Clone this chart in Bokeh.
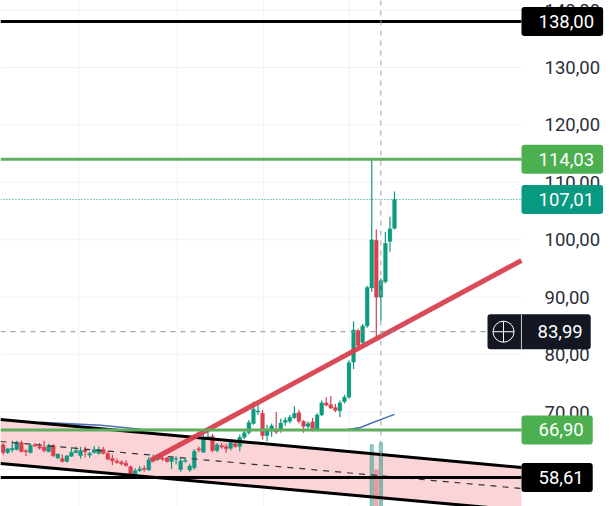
from bokeh.embed import file_html
from bokeh.models import ColumnDataSource, FixedTicker, Label, Range1d, Span
from bokeh.plotting import figure
from bokeh.resources import INLINE

opens = [64.3, 62.95, 63.4, 63.5, 64.7, 63.3, 62.95, 64.3, 64.0, 63.9, 63.1, 64.2, 62.0, 61.9, 61.4,
         62.3, 62.95, 62.4, 63.4, 62.5, 62.95, 62.8, 63.5, 62.8, 61.9, 61.5, 61.3, 61.1, 60.5, 58.8,
         59.8, 60.2, 59.9, 61.7, 61.8, 62.0, 62.0, 61.4, 61.8, 60.0, 61.4, 59.9, 60.3, 63.6, 63.0,
         65.5, 65.8, 63.3, 64.2, 64.0, 63.7, 64.5, 64.0, 65.6, 66.4, 68.0, 70.0, 69.8, 65.9, 66.7,
         67.0, 66.8, 68.2, 68.4, 69.0, 69.9, 68.4, 67.5, 68.3, 66.9, 69.5, 71.6, 71.3, 70.8, 70.2,
         71.8, 72.6, 78.7, 84.2, 82.1, 85.0, 91.6, 99.9, 90.0, 92.7, 99.7, 102.0]
highs = [64.6, 63.7, 65.0, 65.0, 65.0, 63.5, 64.5, 64.6, 64.6, 65.0, 64.5, 64.4, 62.8, 62.6, 62.5,
         63.9, 64.0, 63.9, 64.0, 63.1, 64.1, 64.0, 63.9, 63.2, 62.6, 61.9, 61.6, 61.6, 60.7, 60.2,
         60.6, 60.7, 62.2, 62.6, 62.4, 62.4, 62.2, 62.2, 62.3, 61.9, 62.0, 61.0, 63.5, 64.0, 66.2,
         66.7, 66.2, 64.6, 64.6, 64.5, 65.0, 65.0, 66.1, 67.0, 68.6, 71.8, 71.3, 70.4, 67.8, 68.0,
         70.0, 68.9, 69.1, 69.5, 71.0, 70.4, 68.6, 68.4, 69.0, 69.8, 72.0, 72.6, 72.8, 71.4, 72.0,
         73.0, 79.0, 85.8, 84.5, 85.4, 92.0, 114.03, 101.8, 93.3, 101.4, 104.0, 108.4]
lows = [62.6, 62.7, 63.0, 63.3, 63.0, 62.3, 62.8, 63.9, 63.5, 63.0, 63.0, 62.2, 61.8, 61.2, 61.2,
        62.2, 62.8, 61.9, 62.1, 62.0, 62.8, 62.6, 62.6, 61.6, 60.8, 61.0, 60.7, 60.5, 58.6, 58.6,
        59.6, 59.6, 59.8, 61.5, 61.5, 61.5, 61.2, 60.1, 60.9, 59.6, 61.2, 59.6, 60.0, 63.0, 62.9,
        65.3, 63.0, 63.0, 63.6, 62.9, 63.3, 63.8, 63.2, 65.3, 66.1, 67.8, 69.5, 65.2, 64.9, 65.7,
        66.2, 66.4, 67.6, 68.0, 68.8, 68.0, 66.4, 66.8, 66.6, 66.6, 69.3, 71.0, 70.5, 70.0, 69.1,
        71.5, 72.3, 77.5, 80.9, 81.5, 84.7, 90.9, 83.0, 85.9, 92.4, 97.9, 101.8]
closes = [62.95, 63.6, 63.7, 64.7, 63.1, 63.1, 64.2, 64.1, 63.7, 63.3, 64.2, 62.4, 62.7, 61.4, 62.4,
          63.0, 63.3, 63.3, 63.1, 62.8, 63.5, 63.5, 62.8, 61.8, 61.5, 61.2, 61.0, 60.7, 58.8, 59.8,
          60.1, 60.0, 61.7, 61.9, 62.0, 61.8, 61.4, 62.0, 61.9, 61.5, 61.6, 60.6, 63.2, 63.4, 65.5,
          65.7, 63.3, 64.3, 63.9, 63.6, 64.7, 64.0, 65.6, 66.4, 68.2, 70.5, 70.2, 65.9, 66.8, 67.6,
          66.5, 68.1, 68.6, 69.1, 69.8, 68.4, 67.5, 68.0, 66.9, 69.5, 71.6, 71.2, 70.7, 70.3, 71.6,
          72.6, 78.6, 84.3, 81.6, 85.0, 91.7, 100.0, 90.0, 92.9, 99.4, 101.9, 107.01]

volume_idx = [81, 82, 83]
volume_val = [12.2, 7.2, 12.6]
volume_col = ["#2f9a8a", "#e8606f", "#2f9a8a"]

ma_idx = [8.2, 21.5, 30.3, 43.5, 75.7, 78.5, 80.7, 86.0]
ma_val = [68.2, 67.7, 67.0, 66.9, 66.97, 67.3, 68.0, 69.6]

channel_idx = [-0.6, 113.9]
channel_top = [68.71, 60.35]
channel_mid = [64.88, 56.70]
channel_bot = [61.05, 52.87]

trend_idx = [32.4, 113.9]
trend_val = [61.57, 96.39]

axis_ticks = [60, 70, 80, 90, 100, 110, 120, 130, 140]
axis_labels = {t: f"{t},00" for t in axis_ticks}
time_grid = [16.5, 38.3, 57.2, 76.1]

# the chart stops where the price scale starts
pane_idx = [-0.6, 113.9]

black_levels = [138.00, 58.61]
green_levels = [114.03, 66.90]
last_price = 107.01
cross_price = 83.99
cross_idx = 83

TEAL = "#0f9a80"
RED = "#d8404f"
GREEN = "#5fae5f"
TAGS = [
    ("138,00", 138.00, "#000000"),
    ("114,03", 114.03, "#4caf50"),
    ("107,01", 107.01, "#089981"),
    ("66,90", 66.90, "#4caf50"),
    ("58,61", 58.61, "#000000"),
]

idx = list(range(len(opens)))
colors = [TEAL if c >= o else RED for o, c in zip(opens, closes)]
source = ColumnDataSource(dict(
    idx=idx, open=opens, high=highs, low=lows, close=closes, color=colors,
    top=[max(o, c) for o, c in zip(opens, closes)],
    bottom=[min(o, c) for o, c in zip(opens, closes)],
))

p = figure(
    width=610, height=506,
    x_range=Range1d(-0.59, 133.47), y_range=Range1d(53.56, 141.66),
    y_axis_location="right", output_backend="svg", toolbar_location=None,
    min_border_left=0, min_border_top=0, min_border_bottom=0, min_border_right=0,
)
p.outline_line_color = None
p.xaxis.visible = False
p.xgrid.ticker = FixedTicker(ticks=time_grid)
p.xgrid.grid_line_color = "#f0f3fa"
p.ygrid.visible = False

# negative standoff pulls the labels back over the frame, so the tags can sit on top of them
axis = p.yaxis[0]
axis.ticker = FixedTicker(ticks=axis_ticks)
axis.major_label_overrides = axis_labels
axis.axis_line_color = None
axis.major_tick_line_color = None
axis.minor_tick_line_color = None
axis.major_label_standoff = -72
axis.major_label_text_font = "Roboto"
axis.major_label_text_font_size = "18.5px"
axis.major_label_text_color = "#2a2e39"

for tick in axis_ticks:
    p.line(pane_idx, [tick, tick], line_color="#f0f3fa", line_width=1)

# channel
p.varea(x=channel_idx, y1=channel_bot, y2=channel_top, fill_color="#f9cfd2", fill_alpha=0.9)

# volume sits on its own scale along the bottom
p.extra_y_ranges["volume"] = Range1d(0, 100)
p.vbar(x=volume_idx, top=volume_val, bottom=0, width=0.7, color=volume_col, alpha=0.5, y_range_name="volume")

p.line(ma_idx, ma_val, line_color="#4a6fb5", line_width=1.6)

p.segment("idx", "high", "idx", "low", source=source, color="color", line_width=1.2)
p.vbar("idx", 0.85, "bottom", "top", source=source, fill_color="color", line_color="color", line_width=0.3)

p.line(channel_idx, channel_mid, line_color="#333333", line_width=1.2, line_dash="6 6")
p.line(channel_idx, channel_top, line_color="#000000", line_width=3)
p.line(channel_idx, channel_bot, line_color="#000000", line_width=3)
p.line(trend_idx, trend_val, line_color=RED, line_width=5, line_alpha=0.95)

for level in black_levels:
    p.line(pane_idx, [level, level], line_color="#000000", line_width=3)
for level in green_levels:
    p.line(pane_idx, [level, level], line_color=GREEN, line_width=3)
p.line(pane_idx, [last_price, last_price], line_color=TEAL, line_width=1, line_dash="1 2")
p.line(pane_idx, [cross_price, cross_price], line_color="#8a8e99", line_width=1, line_dash="5 5")
p.add_layout(Span(location=cross_idx, dimension="height", line_color="#9aa0a8", line_width=1, line_dash="5 5"))

# price tags on the scale, padding is left, right, top, bottom
for text, price, fill in TAGS:
    p.add_layout(Label(
        x=521, y=price, x_units="screen", text=text, text_color="white",
        text_font="Roboto", text_font_size="18.5px", text_baseline="middle",
        background_fill_color=fill, padding=(17, 9, 8, 8), border_radius=3,
    ))

# crosshair tag with its plus button
p.add_layout(Label(
    x=487, y=cross_price, x_units="screen", text="83,99", text_color="white",
    text_font="Roboto", text_font_size="18.5px", text_baseline="middle",
    background_fill_color="#131722", padding=(50, 8, 11, 11), border_radius=3,
))
p.scatter(x=[109.96], y=[cross_price], marker="circle_cross", size=21, fill_color=None,
          line_color="white", line_width=1, level="overlay")
p.segment(x0=[113.9], y0=[81.0], x1=[113.9], y1=[87.0], line_color="#c8ccd4", line_width=1, level="overlay")

open("out.html", "w").write(file_html(p, INLINE))
